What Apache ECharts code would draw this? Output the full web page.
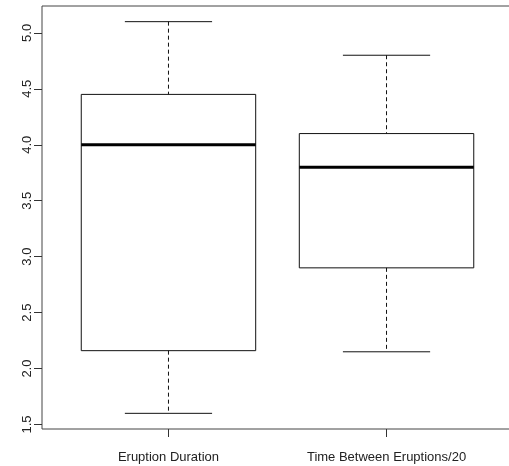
<!DOCTYPE html>
<html>
<head>
<meta charset="utf-8">
<script src="https://cdn.jsdelivr.net/npm/echarts@6/dist/echarts.min.js"></script>
<style>
html,body{margin:0;padding:0;background:#fff;}
#chart{width:509px;height:466px;}
</style>
</head>
<body>
<div id="chart"></div>
<script>
var categories = ['Eruption Duration', 'Time Between Eruptions/20'];
var whiskerLow = [1.6, 2.15];
var quartile1 = [2.16, 2.9];
var medians = [4.0, 3.8];
var quartile3 = [4.45, 4.1];
var whiskerHigh = [5.1, 4.8];
var yTicks = [1.5, 2.0, 2.5, 3.0, 3.5, 4.0, 4.5, 5.0];

var boxData = categories.map(function (c, i) {
  return [i + 1, whiskerLow[i], quartile1[i], medians[i], quartile3[i], whiskerHigh[i]];
});

var FONT = 'Liberation Sans';
var chart = echarts.init(document.getElementById('chart'), null, {renderer: 'canvas'});
chart.setOption({
  animation: false,
  backgroundColor: '#ffffff',
  grid: {
    left: 42, top: 6, width: 471, height: 423,
    containLabel: false, outerBoundsMode: 'none',
    show: true, borderColor: '#444', borderWidth: 1, backgroundColor: 'transparent'
  },
  xAxis: {
    type: 'value', min: 0.42, max: 2.58,
    splitLine: {show: false},
    axisLine: {show: false},
    axisTick: {show: true, customValues: [1, 2], length: 8, lineStyle: {color: '#333', width: 1}},
    axisLabel: {
      show: true, customValues: [1, 2], margin: 22,
      fontFamily: FONT, fontSize: 13, color: '#222',
      formatter: function (v) { return categories[Math.round(v) - 1] || ''; }
    }
  },
  yAxis: {
    type: 'value', min: 1.46, max: 5.24,
    splitLine: {show: false},
    axisLine: {show: false},
    axisTick: {show: true, customValues: yTicks, length: 8, lineStyle: {color: '#333', width: 1}},
    axisLabel: {
      show: true, customValues: yTicks, rotate: 90, margin: 8,
      fontFamily: FONT, fontSize: 13, color: '#222',
      formatter: function (v) { return v.toFixed(1); }
    }
  },
  series: [{
    type: 'custom',
    data: boxData,
    encode: {x: 0, y: [1, 2, 3, 4, 5]},
    renderItem: function (params, api) {
      var x = api.value(0);
      var lo = api.coord([x, api.value(1)]);
      var q1 = api.coord([x, api.value(2)]);
      var md = api.coord([x, api.value(3)]);
      var q3 = api.coord([x, api.value(4)]);
      var hi = api.coord([x, api.value(5)]);
      var bl = api.coord([x - 0.4, 0])[0];
      var br = api.coord([x + 0.4, 0])[0];
      var cl = api.coord([x - 0.2, 0])[0];
      var cr = api.coord([x + 0.2, 0])[0];
      var cx = lo[0];
      var line = {stroke: '#111', lineWidth: 1};
      var dash = {stroke: '#111', lineWidth: 1, lineDash: [4, 3]};
      return {
        type: 'group',
        children: [
          {type: 'line', shape: {x1: cx, y1: hi[1], x2: cx, y2: q3[1]}, style: dash},
          {type: 'line', shape: {x1: cx, y1: q1[1], x2: cx, y2: lo[1]}, style: dash},
          {type: 'line', shape: {x1: cl, y1: hi[1], x2: cr, y2: hi[1]}, style: line},
          {type: 'line', shape: {x1: cl, y1: lo[1], x2: cr, y2: lo[1]}, style: line},
          {type: 'rect', shape: {x: bl, y: q3[1], width: br - bl, height: q1[1] - q3[1]},
           style: {fill: 'none', stroke: '#111', lineWidth: 1}},
          {type: 'line', shape: {x1: bl, y1: md[1], x2: br, y2: md[1]},
           style: {stroke: '#000', lineWidth: 3}}
        ]
      };
    }
  }]
});
</script>
</body>
</html>
